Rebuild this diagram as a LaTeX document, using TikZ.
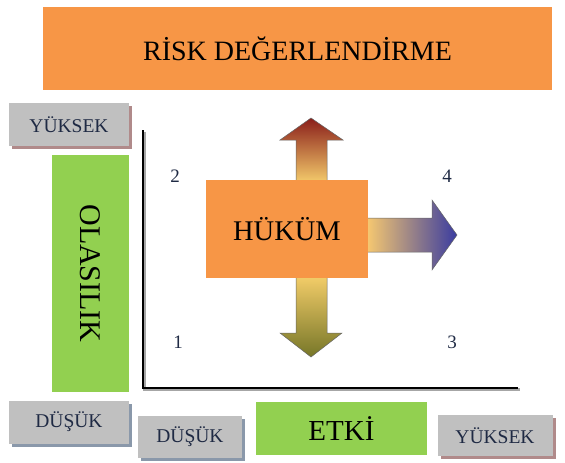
\documentclass[tikz,border=0pt]{standalone}
\usepackage{fontspec}
\setmainfont{Liberation Serif}
\usetikzlibrary{shadows}
\definecolor{orng}{HTML}{F79646}
\definecolor{grn}{HTML}{92D050}
\definecolor{gry}{HTML}{C0C0C0}
\definecolor{navy}{HTML}{1F2A44}
\definecolor{redshadow}{HTML}{B08A8A}
\definecolor{blueshadow}{HTML}{8A98AA}
\tikzset{
  graybox/.style={fill=gry, text=navy, font=\fontsize{19.5}{22}\selectfont, inner sep=0pt},
  redsh/.style={drop shadow={shadow xshift=3pt, shadow yshift=-3pt, fill=redshadow, opacity=1}},
  bluesh/.style={drop shadow={shadow xshift=3pt, shadow yshift=-3pt, fill=blueshadow, opacity=1}},
  orangebox/.style={fill=orng, inner sep=0pt},
  greenbox/.style={fill=grn, inner sep=0pt},
  numlabel/.style={text=navy, font=\fontsize{19}{21}\selectfont},
  axis/.style={line width=2.6pt, black},
  arrowline/.style={draw=black!60, line width=0.5pt}
}
\begin{document}
\begin{tikzpicture}[x=1pt,y=-1pt]
\useasboundingbox (0,0) rectangle (565,463);
% title
\node[orangebox, minimum width=509pt, minimum height=83pt, font=\fontsize{28}{30}\selectfont] (title) at (297.5,48.5) {RİSK DEĞERLENDİRME};
% gray boxes
\node[graybox, redsh, minimum width=120pt, minimum height=43pt] (yukL) at (69,124.5) {YÜKSEK};
\node[graybox, bluesh, minimum width=120pt, minimum height=43pt] (dusL) at (69,422) {DÜŞÜK};
\node[graybox, bluesh, minimum width=104pt, minimum height=42pt] (dusB) at (190,437) {DÜŞÜK};
\node[graybox, redsh, minimum width=115pt, minimum height=41pt] (yukB) at (495,435.5) {YÜKSEK};
% green boxes
\node[greenbox, minimum width=77pt, minimum height=237pt] (olas) at (90.5,273.5) {};
\node[rotate=-90, font=\fontsize{30}{32}\selectfont] (olastext) at (olas.center) {OLASILIK};
\node[greenbox, minimum width=171pt, minimum height=53pt, font=\fontsize{29}{31}\selectfont] (etki) at (341.5,428.5) {ETKİ};
% axes
\coordinate (ytop) at (143,130);
\coordinate (orig) at (143,388);
\coordinate (xend) at (518,388);
\draw[black!35, line width=2.6pt] ([xshift=1.5pt,yshift=-1.5pt]ytop) -- ([xshift=1.5pt,yshift=-1.5pt]orig) -- ([xshift=1.5pt,yshift=-1.5pt]xend);
\draw[axis] (ytop) -- (orig) -- (xend);
% numbers
\node[numlabel] (n2) at (175,176) {2};
\node[numlabel] (n4) at (447,176) {4};
\node[numlabel] (n1) at (178,342) {1};
\node[numlabel] (n3) at (452,342) {3};
% arrows
\shade[top color={rgb,255:red,138;green,30;blue,26}, bottom color={rgb,255:red,242;green,200;blue,106}, arrowline]
  (296,181) -- (296,140) -- (280,140) -- (311,118) -- (343,140) -- (327,140) -- (327,181) -- cycle;
\shade[top color={rgb,255:red,242;green,204;blue,104}, bottom color={rgb,255:red,118;green,118;blue,40}, arrowline]
  (296,277) -- (296,333) -- (280,333) -- (311,357) -- (342,333) -- (327,333) -- (327,277) -- cycle;
\shade[left color={rgb,255:red,246;green,200;blue,112}, right color={rgb,255:red,58;green,60;blue,160}, arrowline]
  (367,218) -- (432,218) -- (432,200) -- (457,235) -- (432,270) -- (432,252) -- (367,252) -- cycle;
% HÜKÜM box
\node[orangebox, minimum width=162pt, minimum height=98pt, font=\fontsize{28.5}{30}\selectfont] (hukum) at (287,229) {HÜKÜM};
\end{tikzpicture}
\end{document}
